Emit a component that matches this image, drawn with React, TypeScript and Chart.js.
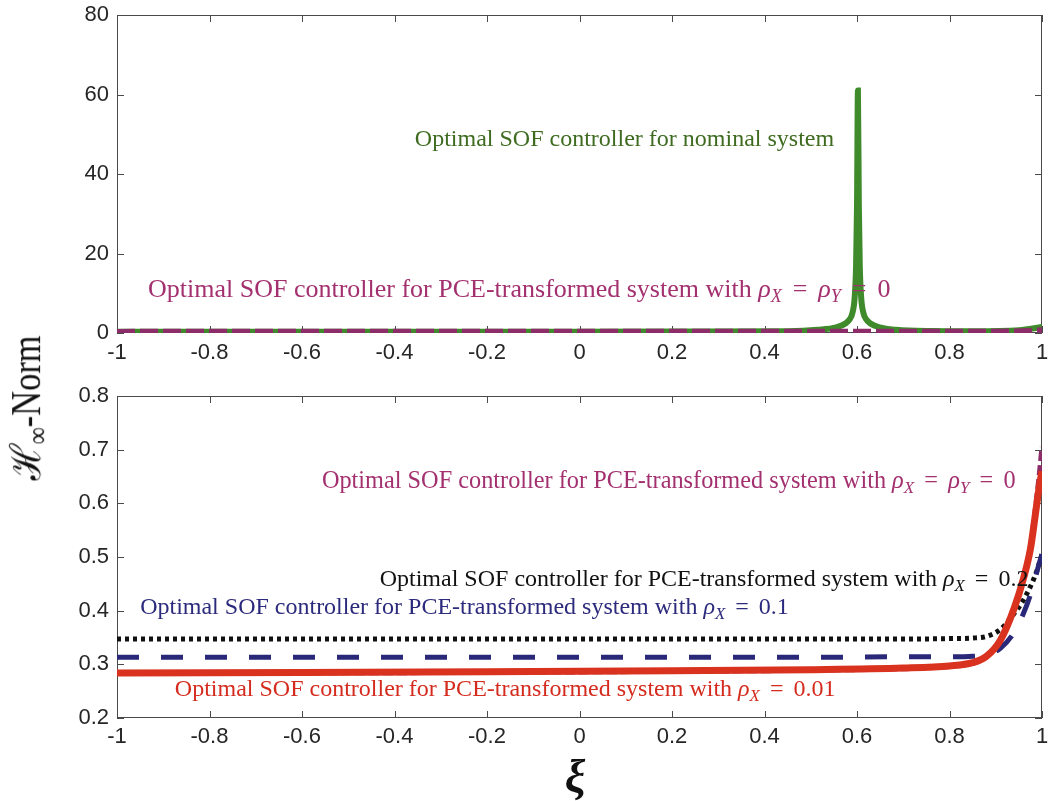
import { useEffect, useRef } from 'react';
import { Chart, registerables } from 'chart.js';

Chart.register(...registerables);

// ξ sample points for the PCE-based controllers
const xiPce = [-1, -0.6, -0.2, 0.2, 0.5, 0.7, 0.8, 0.85, 0.88, 0.91, 0.94, 0.96, 0.975, 0.985, 0.993, 1.0];
// H∞-norm for each PCE weighting
const hinfRho0 = [0.283, 0.284, 0.285, 0.287, 0.289, 0.292, 0.296, 0.302, 0.314, 0.344, 0.404, 0.46, 0.52, 0.585, 0.645, 0.705];
const hinfRho001 = [0.284, 0.285, 0.286, 0.288, 0.29, 0.293, 0.297, 0.303, 0.315, 0.345, 0.405, 0.46, 0.515, 0.575, 0.625, 0.66];
const hinfRho01 = [0.313, 0.313, 0.313, 0.313, 0.313, 0.314, 0.314, 0.315, 0.318, 0.33, 0.36, 0.395, 0.43, 0.46, 0.485, 0.505];
const hinfRho02 = [0.347, 0.347, 0.347, 0.347, 0.347, 0.347, 0.348, 0.349, 0.352, 0.365, 0.395, 0.42, 0.445, 0.465, 0.485, 0.505];

// nominal controller, with its resonance near ξ ≈ 0.602
const xiNominal = [-1, -0.6, -0.2, 0.2, 0.45, 0.515, 0.555, 0.575, 0.585, 0.59, 0.595, 0.598, 0.6, 0.602, 0.604, 0.606, 0.609, 0.614, 0.619, 0.629, 0.649, 0.685, 0.76, 0.85, 0.95, 1.0];
const hinfNominal = [0.3, 0.31, 0.32, 0.35, 0.45, 0.8, 1.4, 2.4, 3.6, 5, 9, 17, 32, 61, 32, 17, 9, 5, 3.6, 2.4, 1.4, 0.8, 0.5, 0.45, 0.7, 1.5];

// axis ticks
const xTickValues = [-1, -0.8, -0.6, -0.4, -0.2, 0, 0.2, 0.4, 0.6, 0.8, 1];
const xTickLabels = ['-1', '-0.8', '-0.6', '-0.4', '-0.2', '0', '0.2', '0.4', '0.6', '0.8', '1'];
const yTopTickValues = [0, 20, 40, 60, 80];
const yTopTickLabels = ['0', '20', '40', '60', '80'];
const yBottomTickValues = [0.2, 0.3, 0.4, 0.5, 0.6, 0.7, 0.8];
const yBottomTickLabels = ['0.2', '0.3', '0.4', '0.5', '0.6', '0.7', '0.8'];

const GREEN = '#3f8b2c';
const MAGENTA = '#8c2c68';
const BLUE = '#2a2878';
const BLACK = '#111111';
const RED = '#d9321f';

const TICK_FONT = { family: '"Liberation Sans", Arial, sans-serif', size: 22 };
const TICK_COLOR = '#262626';

// gap: extra space (in em) on each side, used for relation signs
type Part = { t: string; i?: boolean; sub?: boolean; gap?: number };

const withRho = (tail: Part[]): Part[] => [
  { t: 'Optimal SOF controller for PCE-transformed system with ' },
  ...tail,
];
const rhoX: Part[] = [{ t: 'ρ', i: true }, { t: 'X', i: true, sub: true }];
const rhoY: Part[] = [{ t: 'ρ', i: true }, { t: 'Y', i: true, sub: true }];
const eq: Part = { t: '=', gap: 0.42 };
const textRho0: Part[] = withRho([...rhoX, eq, ...rhoY, eq, { t: '0' }]);
const textRho02: Part[] = withRho([...rhoX, eq, { t: '0.2' }]);
const textRho01: Part[] = withRho([...rhoX, eq, { t: '0.1' }]);
const textRho001: Part[] = withRho([...rhoX, eq, { t: '0.01' }]);
const textNominal: Part[] = [{ t: 'Optimal SOF controller for nominal system' }];

const pts = (xs: number[], ys: number[]) => xs.map((x, k) => ({ x, y: ys[k] }));

// box around the plot area with inward ticks on all four sides
const framePlugin = {
  id: 'frame',
  beforeDatasetsDraw(chart: any) {
    const { ctx, chartArea: a, scales } = chart;
    const len = 7;
    ctx.save();
    ctx.strokeStyle = '#4a4a4a';
    ctx.lineWidth = 1;
    ctx.strokeRect(Math.round(a.left) + 0.5, Math.round(a.top) + 0.5, Math.round(a.right - a.left) - 1, Math.round(a.bottom - a.top) - 1);
    ctx.beginPath();
    for (const t of scales.x.ticks) {
      const px = Math.round(scales.x.getPixelForValue(t.value)) + 0.5;
      ctx.moveTo(px, a.bottom);
      ctx.lineTo(px, a.bottom - len);
      ctx.moveTo(px, a.top);
      ctx.lineTo(px, a.top + len);
    }
    for (const t of scales.y.ticks) {
      const py = Math.round(scales.y.getPixelForValue(t.value)) + 0.5;
      ctx.moveTo(a.left, py);
      ctx.lineTo(a.left + len, py);
      ctx.moveTo(a.right, py);
      ctx.lineTo(a.right - len, py);
    }
    ctx.stroke();
    ctx.restore();
  },
};

// in-plot annotations with math subscripts, anchored in data coordinates
const richTextPlugin = {
  id: 'richText',
  afterDatasetsDraw(chart: any, _args: any, opts: any) {
    const { ctx, scales } = chart;
    for (const note of opts.notes || []) {
      let x = scales.x.getPixelForValue(note.x);
      const y = scales.y.getPixelForValue(note.y);
      ctx.save();
      ctx.fillStyle = note.color;
      ctx.textBaseline = 'middle';
      ctx.textAlign = 'left';
      for (const p of note.parts as Part[]) {
        const size = p.sub ? note.size * 0.7 : note.size;
        ctx.font = `${p.i ? 'italic ' : ''}${size}px "Liberation Serif", "Times New Roman", serif`;
        const dy = p.sub ? note.size * 0.28 : 0;
        const gap = (p.gap || 0) * note.size;
        x += gap;
        ctx.fillText(p.t, x, y + dy);
        x += ctx.measureText(p.t).width + gap;
      }
      ctx.restore();
    }
  },
};

const lineDefaults = {
  pointRadius: 0,
  fill: false,
  cubicInterpolationMode: 'monotone' as const,
};

function makeScales(yMin: number, yMax: number, yVals: number[], yLabels: string[], xHeight: number, xPad: number) {
  return {
    x: {
      type: 'linear' as const,
      min: -1,
      max: 1,
      afterBuildTicks: (s: any) => {
        s.ticks = xTickValues.map((v) => ({ value: v }));
      },
      afterFit: (s: any) => {
        s.height = xHeight;
        s.paddingLeft = 0;
        s.paddingRight = 0;
      },
      grid: { display: false, drawTicks: false },
      border: { display: false },
      ticks: {
        autoSkip: false,
        maxRotation: 0,
        padding: xPad,
        font: TICK_FONT,
        color: TICK_COLOR,
        callback: (_v: any, i: number) => xTickLabels[i],
      },
    },
    y: {
      type: 'linear' as const,
      min: yMin,
      max: yMax,
      afterBuildTicks: (s: any) => {
        s.ticks = yVals.map((v) => ({ value: v }));
      },
      afterFit: (s: any) => {
        s.width = 117;
        s.paddingTop = 0;
        s.paddingBottom = 0;
      },
      grid: { display: false, drawTicks: false },
      border: { display: false },
      ticks: {
        autoSkip: false,
        padding: 8,
        font: TICK_FONT,
        color: TICK_COLOR,
        callback: (_v: any, i: number) => yLabels[i],
      },
    },
  };
}

function useChart(ref: any, build: () => any) {
  useEffect(() => {
    const chart = new Chart(ref.current, build());
    return () => chart.destroy();
  }, []);
}

export default function App() {
  const topRef = useRef<HTMLCanvasElement>(null);
  const bottomRef = useRef<HTMLCanvasElement>(null);

  useChart(topRef, () => ({
    type: 'line',
    data: {
      datasets: [
        { ...lineDefaults, data: pts(xiPce, hinfRho0), borderColor: MAGENTA, borderWidth: 6, borderDash: [18, 5] },
        { ...lineDefaults, data: pts(xiNominal, hinfNominal), borderColor: GREEN, borderWidth: 6 },
      ],
    },
    options: {
      animation: false,
      responsive: false,
      maintainAspectRatio: false,
      layout: { padding: { top: 15, right: 6, left: 0, bottom: 0 } },
      plugins: {
        legend: { display: false },
        tooltip: { enabled: false },
        richText: {
          notes: [
            { x: -0.356, y: 48.6, color: '#3e6b1f', size: 24, parts: textNominal },
            { x: -0.933, y: 10.8, color: '#a3306f', size: 26, parts: textRho0 },
          ],
        },
      },
      scales: makeScales(0, 80, yTopTickValues, yTopTickLabels, 39, 7),
    },
    plugins: [framePlugin, richTextPlugin],
  }));

  useChart(bottomRef, () => ({
    type: 'line',
    data: {
      datasets: [
        { ...lineDefaults, data: pts(xiPce, hinfRho001), borderColor: RED, borderWidth: 7 },
        { ...lineDefaults, data: pts(xiPce, hinfRho01), borderColor: BLUE, borderWidth: 5, borderDash: [22, 22] },
        { ...lineDefaults, data: pts(xiPce, hinfRho02), borderColor: BLACK, borderWidth: 5, borderDash: [4, 4] },
        { ...lineDefaults, data: pts(xiPce, hinfRho0), borderColor: MAGENTA, borderWidth: 5, borderDash: [10, 4] },
      ],
    },
    options: {
      animation: false,
      responsive: false,
      maintainAspectRatio: false,
      layout: { padding: { top: 24, right: 6, left: 0, bottom: 0 } },
      plugins: {
        legend: { display: false },
        tooltip: { enabled: false },
        richText: {
          notes: [
            { x: -0.557, y: 0.64, color: '#a3306f', size: 24.3, parts: textRho0 },
            { x: -0.432, y: 0.457, color: '#111111', size: 24, parts: textRho02 },
            { x: -0.95, y: 0.405, color: '#2c2a7c', size: 24, parts: textRho01 },
            { x: -0.875, y: 0.253, color: '#d52b1e', size: 24, parts: textRho001 },
          ],
        },
      },
      scales: makeScales(0.2, 0.8, yBottomTickValues, yBottomTickLabels, 83, 6),
    },
    plugins: [framePlugin, richTextPlugin],
  }));

  return (
    <div style={{ position: 'fixed', left: 0, top: 0, width: 1048, height: 801, background: '#fff', overflow: 'hidden' }}>
      <canvas ref={topRef} width={1048} height={372} style={{ position: 'absolute', left: 0, top: 0, width: 1048, height: 372 }} />
      <canvas ref={bottomRef} width={1048} height={429} style={{ position: 'absolute', left: 0, top: 372, width: 1048, height: 429 }} />
      <div
        style={{
          position: 'absolute',
          left: 29,
          top: 408,
          transform: 'translate(-50%, -50%) rotate(-90deg) scaleX(0.82)',
          whiteSpace: 'nowrap',
          font: '42px "Liberation Serif", "DejaVu Serif", serif',
          color: '#111',
          lineHeight: 1,
        }}
      >
        ℋ<sub style={{ fontSize: '0.7em', verticalAlign: '-0.25em' }}>∞</sub>-Norm
      </div>
      <div
        style={{
          position: 'absolute',
          left: 575,
          top: 777,
          transform: 'translate(-50%, -50%)',
          font: 'italic bold 46px "Liberation Serif", "DejaVu Serif", serif',
          color: '#111',
          lineHeight: 1,
        }}
      >
        ξ
      </div>
    </div>
  );
}
